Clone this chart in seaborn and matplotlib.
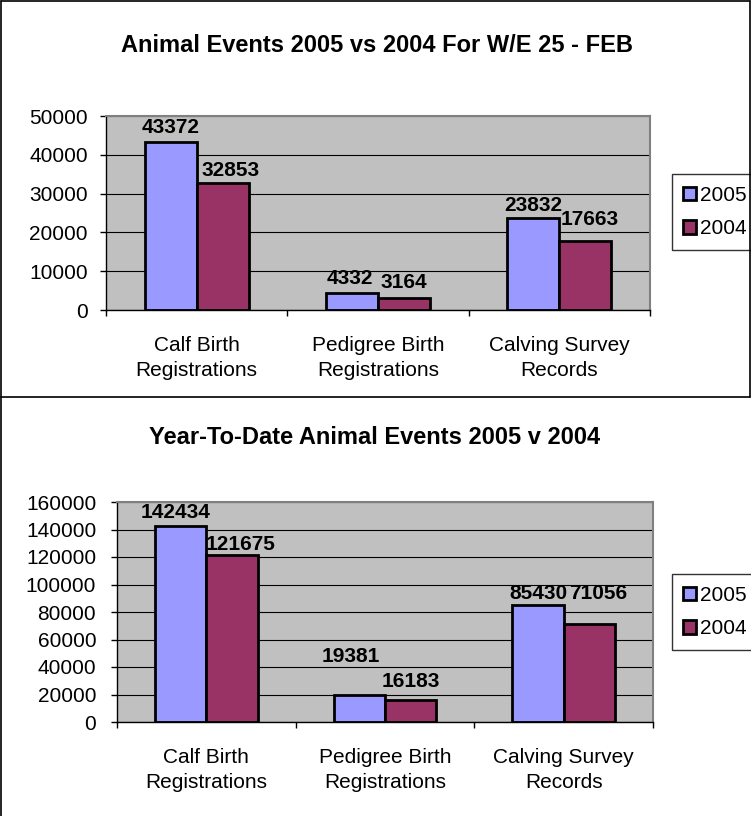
"""
Animal Events 2005 vs 2004 - two stacked Excel-style bar charts
"""

import pandas as pd
import matplotlib.pyplot as plt
from matplotlib.lines import Line2D
from matplotlib.patches import Patch
import seaborn as sns

# data
categories = ['Calf Birth\nRegistrations', 'Pedigree Birth\nRegistrations', 'Calving Survey\nRecords']
years = ['2005', '2004']
week_2005 = [43372, 4332, 23832]
week_2004 = [32853, 3164, 17663]
ytd_2005 = [142434, 19381, 85430]
ytd_2004 = [121675, 16183, 71056]

title_week = 'Animal Events 2005 vs 2004 For W/E 25 - FEB'
title_ytd = 'Year-To-Date Animal Events 2005 v 2004'

# label nudges in pixels (dx, gap above bar), per year then per category
week_dx = [[0, -2, 0], [8, 0, 4]]
week_gap = [[9, 9, 7], [7, 10, 16]]
ytd_dx = [[-5, -9, 0], [9, 0, 9]]
ytd_gap = [[8, 33, 6], [5, 13, 25]]

colors = ['#9999FF', '#993366']

sns.set_style('white')
plt.rcParams['font.family'] = ['Liberation Sans', 'DejaVu Sans']
plt.rcParams['text.color'] = 'black'
plt.rcParams['xtick.color'] = 'black'
plt.rcParams['ytick.color'] = 'black'
plt.rcParams['axes.labelcolor'] = 'black'

W, H = 751, 816
fig = plt.figure(figsize=(W / 100, H / 100), dpi=100)


def make_df(v05, v04):
    rows = []
    for yr, vals in zip(years, [v05, v04]):
        for c, v in zip(categories, vals):
            rows.append({'cat': c, 'year': yr, 'value': v})
    return pd.DataFrame(rows)


def draw(ax, df, ymax, ystep, dxs, gaps, tick_pad):
    sns.barplot(data=df, x='cat', y='value', hue='year', hue_order=years,
                order=categories, palette=colors, width=0.575,
                edgecolor='black', linewidth=2, saturation=1,
                ax=ax, legend=False)
    ax.set_facecolor('#C0C0C0')
    ax.set_xlim(-0.5, 2.5)
    ax.set_ylim(0, ymax)
    ax.set_yticks(range(0, ymax + 1, ystep))
    ax.set_xlabel('')
    ax.set_ylabel('')
    ax.yaxis.grid(True, color='black', linewidth=0.8)
    ax.set_axisbelow(True)
    for s in ['top', 'right']:
        ax.spines[s].set_color('#808080')
        ax.spines[s].set_linewidth(1.5)
    for s in ['left', 'bottom']:
        ax.spines[s].set_color('black')
        ax.spines[s].set_linewidth(1)
    ax.tick_params(axis='y', length=4, width=1, color='black', pad=tick_pad,
                   labelsize=15, labelcolor='black', left=True, direction='out')
    ax.set_xticks([-0.5, 0.5, 1.5, 2.5], minor=True)
    ax.tick_params(axis='x', which='minor', length=4, width=1, color='black',
                   bottom=True, direction='out')
    ax.tick_params(axis='x', which='major', length=0, pad=19, labelsize=15,
                   labelcolor='black')
    for lab in ax.get_xticklabels():
        lab.set_linespacing(1.35)

    for i, cont in enumerate(ax.containers):
        for j, bar in enumerate(cont):
            h = bar.get_height()
            ax.annotate(f'{int(h)}', (bar.get_x() + bar.get_width() / 2, h),
                        xytext=(dxs[i][j] * 0.72, gaps[i][j] * 0.72),
                        textcoords='offset points', ha='center', va='baseline',
                        fontsize=15, fontweight='bold', color='black',
                        annotation_clip=False)

    handles = [Patch(facecolor=c, edgecolor='black', linewidth=2) for c in colors]
    ax.legend(handles, years, loc='center left',
              bbox_to_anchor=(672 / W, 0.5), bbox_transform=fig.transFigure,
              fontsize=15, frameon=True, fancybox=False, edgecolor='black',
              handlelength=0.6, handleheight=0.6, handletextpad=0.2,
              borderpad=0.55, labelspacing=0.7, borderaxespad=0)


# top chart (week)
ax1 = fig.add_axes([106 / W, 1 - 310 / H, (650 - 106) / W, (310 - 116) / H])
draw(ax1, make_df(week_2005, week_2004), 50000, 10000, week_dx, week_gap, 9)
leg = ax1.get_legend()
leg.set_bbox_to_anchor((672 / W, 1 - 212 / H), transform=fig.transFigure)

# bottom chart (year to date)
ax2 = fig.add_axes([117 / W, 1 - 722 / H, (653 - 117) / W, (722 - 502) / H])
draw(ax2, make_df(ytd_2005, ytd_2004), 160000, 20000, ytd_dx, ytd_gap, 11)
leg = ax2.get_legend()
leg.set_bbox_to_anchor((672 / W, 1 - 612 / H), transform=fig.transFigure)

fig.text(377 / W, 1 - 45 / H, title_week, ha='center', va='center',
         fontsize=17, fontweight='bold', color='black')
fig.text(375 / W, 1 - 437 / H, title_ytd, ha='center', va='center',
         fontsize=17, fontweight='bold', color='black')

# panel borders
for (x0, y0, x1, y1) in [(1, 1, 750, 1), (1, 1, 1, 816), (750, 1, 750, 397), (1, 397, 750, 397)]:
    fig.add_artist(Line2D([x0 / W, x1 / W], [1 - y0 / H, 1 - y1 / H],
                          transform=fig.transFigure, color='black', linewidth=1.2))

fig.savefig('out.png', dpi=100)
